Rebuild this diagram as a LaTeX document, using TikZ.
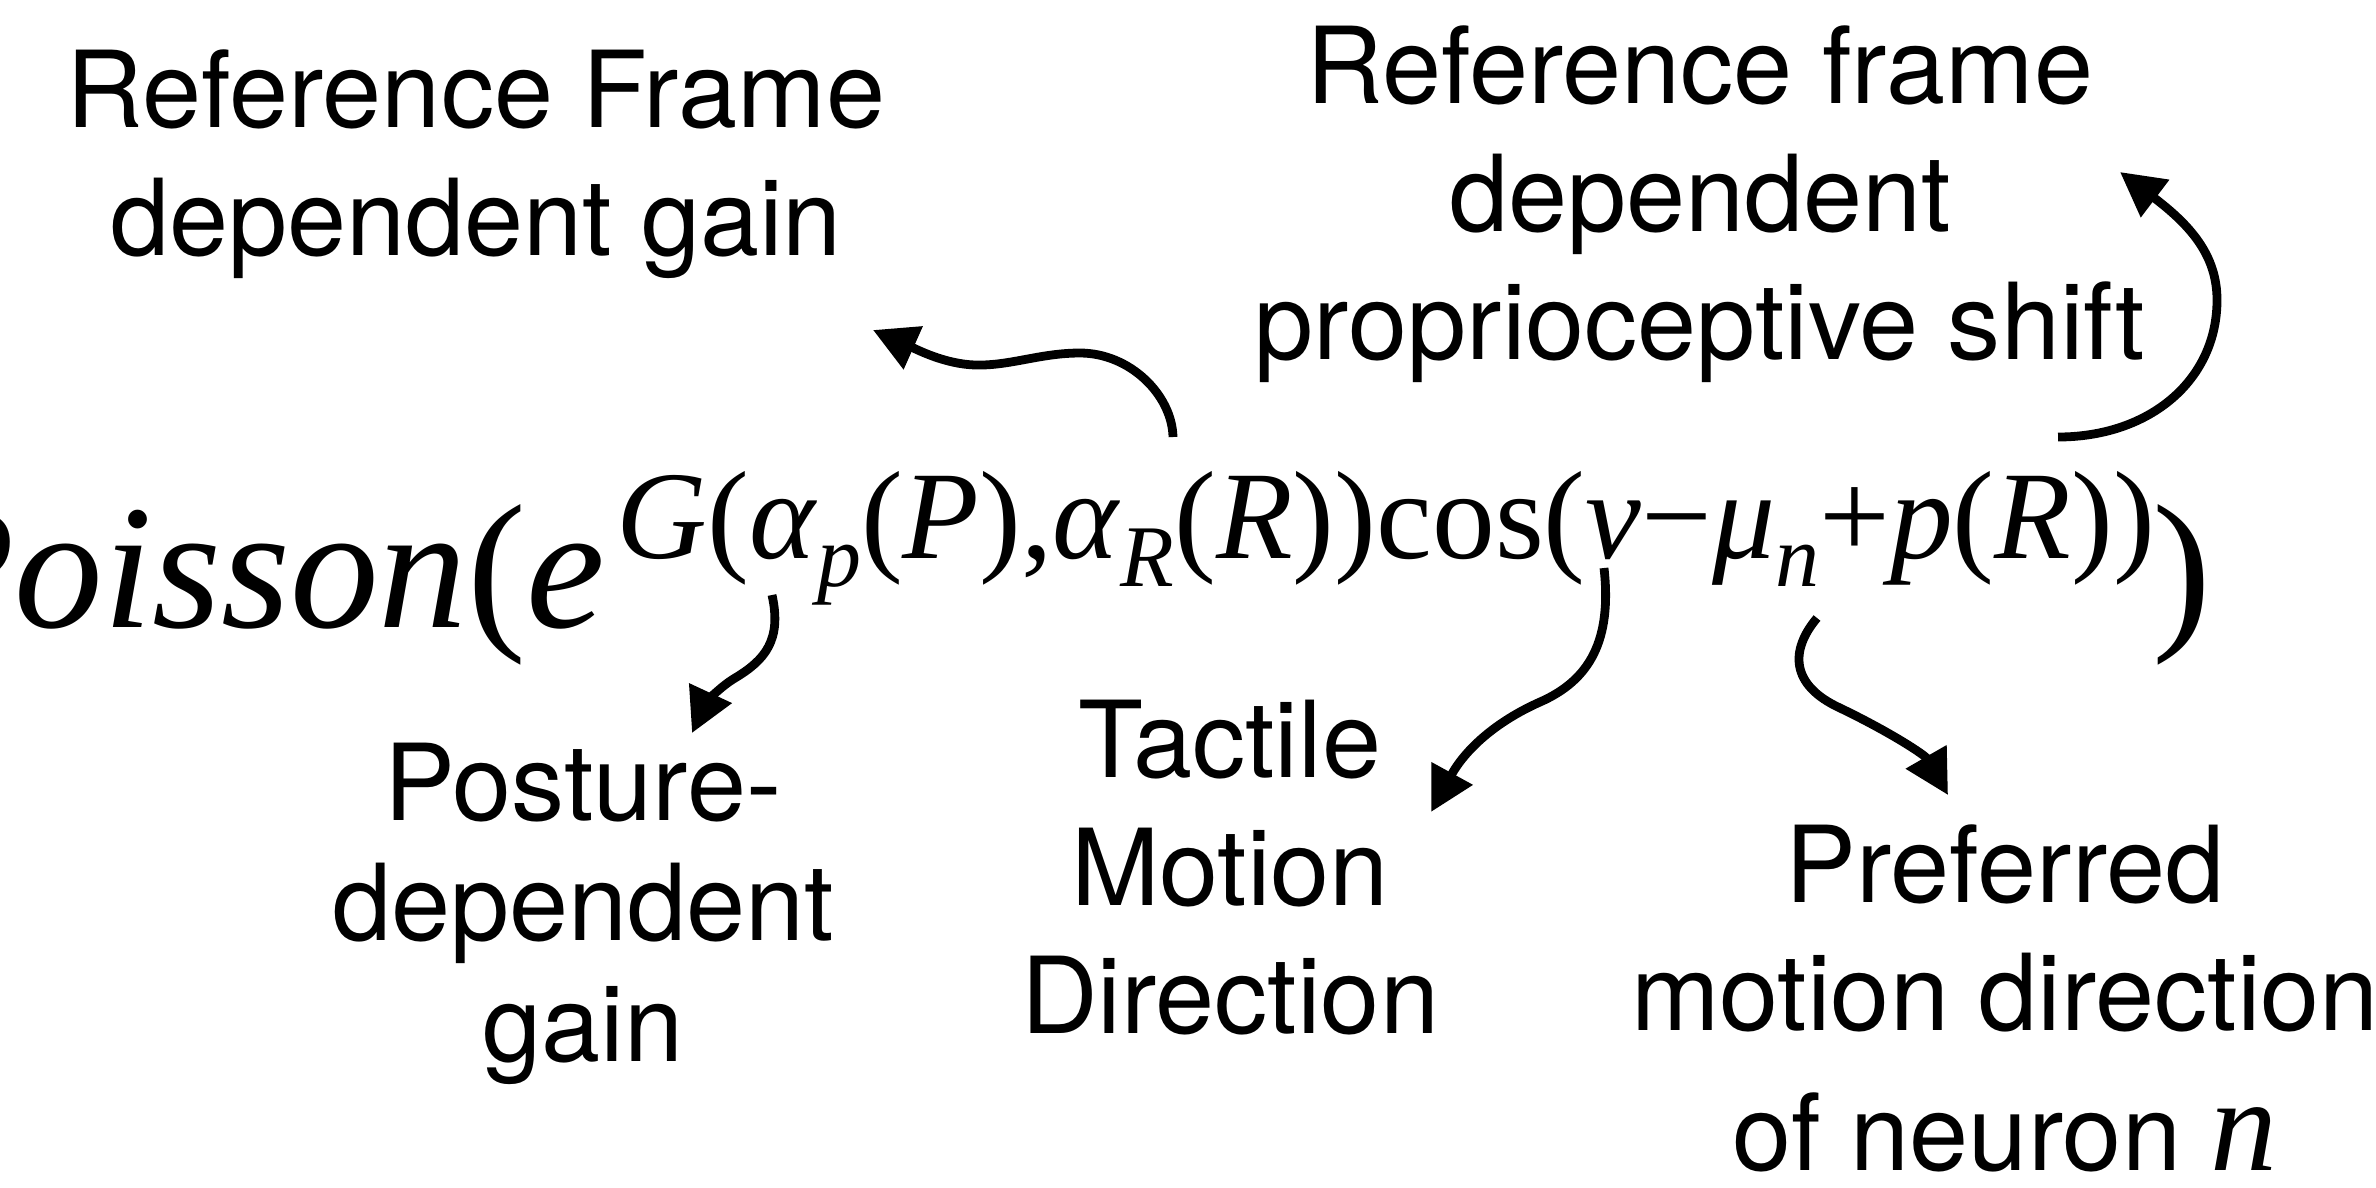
\documentclass[tikz,border=0pt]{standalone}
\usepackage{fontspec}
\usetikzlibrary{arrows.meta}
\setsansfont{TeX Gyre Heros}
\newfontfamily\tms{Liberation Serif}
\newcommand\mysub[1]{\raisebox{-8pt}{\fontsize{25pt}{25pt}\selectfont\itshape #1}}
\newcommand\lblfont{\fontsize{30.2pt}{36.4pt}\selectfont\sffamily}
\tikzset{
  lbl/.style={font=\lblfont, align=center, inner sep=0pt, anchor=base},
  fml/.style={inner sep=0pt},
  arr/.style={line width=2.5pt, -{Triangle[length=0.44cm,width=0.45cm]}}
}
\begin{document}
\begin{tikzpicture}[x=0.01cm,y=-0.01cm]
\useasboundingbox (0,0) rectangle (2376,1187);
\fill[white] (0,0) rectangle (2376,1187);
\clip (0,0) rectangle (2376,1187);
% formula
\node[fml, anchor=base east] (pois) at (606,627)
  {\fontsize{50.4pt}{56pt}\selectfont\tms\textit{Poisson}(\textit{e}};
\node[fml, anchor=base west] (expo) at (616,558)
  {\fontsize{35.7pt}{40pt}\selectfont\tms\textit{G}(\textit{α}\mysub{p}(\textit{P}),\textit{α}\mysub{R}(\textit{R}))cos(\textit{v}−\textit{μ}\mysub{n}+\textit{p}(\textit{R}))};
\node[fml, anchor=base west] (close) at (2152,627)
  {\fontsize{50.4pt}{56pt}\selectfont\tms )};
% labels (anchored at the baseline of their last line)
\node[lbl] (l1) at (476,255) {Reference Frame\\dependent gain};
\node[lbl] (l2) at (1700,359) {Reference frame\\dependent\\proprioceptive shift};
\node[lbl, font=\fontsize{30.2pt}{34.2pt}\selectfont\sffamily] (l3) at (583,1061) {Posture-\\dependent\\gain};
\node[lbl] (l4) at (1230,1033) {Tactile\\Motion\\Direction};
\node[lbl] (l5) at (2005,1170) {Preferred\\motion direction\\[0.12cm]of neuron {\fontsize{38pt}{40pt}\selectfont\tms\itshape n}};
% connector end points
\coordinate (a1s) at (1173,437); \coordinate (a1e) at (873,330);
\coordinate (a2s) at (2058,437); \coordinate (a2e) at (2120,172);
\coordinate (a3s) at (772,595);  \coordinate (a3e) at (692,733);
\coordinate (a4s) at (1604,568); \coordinate (a4e) at (1431,812);
\coordinate (a5s) at (1817,618); \coordinate (a5e) at (1948,795);
% connectors
\draw[arr] (a1s) .. controls (1172,395) and (1130,353) .. (1080,353)
  .. controls (1040,353) and (1010,366) .. (975,365)
  .. controls (945,364) and (918,350) .. (a1e);
\draw[arr] (a2s) .. controls (2150,437) and (2217,380) .. (2217,300)
  .. controls (2217,255) and (2190,225) .. (a2e);
\draw[arr] (a3s) .. controls (782,640) and (765,660) .. (735,678)
  .. controls (718,688) and (705,705) .. (a3e);
\draw[arr] (a4s) .. controls (1612,640) and (1590,680) .. (1540,702)
  .. controls (1495,722) and (1465,750) .. (a4e);
\draw[arr] (a5s) .. controls (1790,650) and (1790,685) .. (1840,708)
  .. controls (1890,732) and (1925,755) .. (a5e);
\end{tikzpicture}
\end{document}
